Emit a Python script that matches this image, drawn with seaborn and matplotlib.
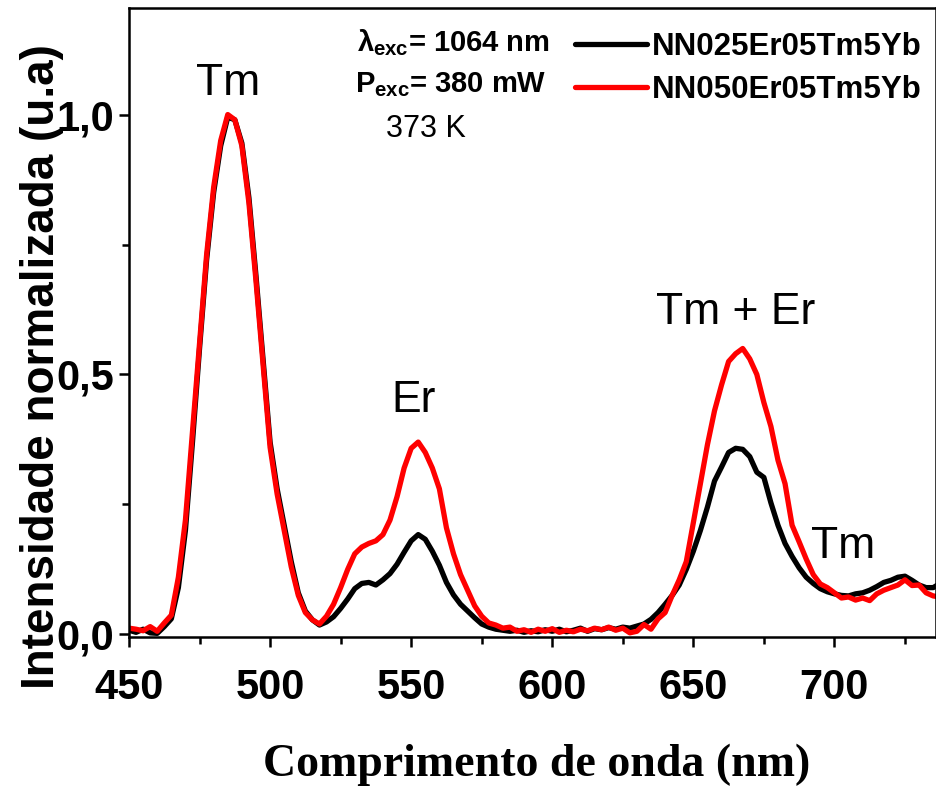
import numpy as np
import pandas as pd
import seaborn as sns
import matplotlib
matplotlib.use("Agg")
import matplotlib.pyplot as plt
from matplotlib.ticker import MultipleLocator, FuncFormatter

# Emission spectra (normalized) sampled every 2.5 nm from 450 to 740 nm
wavelength = np.arange(450.0, 740.1, 2.5)

nn025 = [
    0.008, 0.004, 0.010, 0.003, 0.002, 0.015, 0.030, 0.09, 0.20, 0.37,
    0.55, 0.72, 0.85, 0.94, 0.995, 0.99, 0.945, 0.84, 0.69, 0.53,
    0.37, 0.28, 0.21, 0.14, 0.08, 0.045, 0.028, 0.018, 0.024, 0.034,
    0.05, 0.068, 0.088, 0.098, 0.10, 0.095, 0.105, 0.117, 0.135, 0.158,
    0.18, 0.192, 0.183, 0.16, 0.133, 0.10, 0.076, 0.058, 0.045, 0.032,
    0.02, 0.014, 0.01, 0.008, 0.006, 0.008, 0.004, 0.007, 0.005, 0.009,
    0.006, 0.010, 0.005, 0.008, 0.012, 0.006, 0.011, 0.009, 0.013, 0.010,
    0.014, 0.012, 0.016, 0.020, 0.029, 0.042, 0.058, 0.075, 0.095, 0.125,
    0.16, 0.20, 0.245, 0.295, 0.322, 0.35, 0.358, 0.356, 0.342, 0.312,
    0.302, 0.253, 0.21, 0.175, 0.15, 0.128, 0.11, 0.098, 0.088, 0.082,
    0.078, 0.075, 0.074, 0.078, 0.08, 0.085, 0.092, 0.10, 0.104, 0.11,
    0.112, 0.104, 0.095, 0.09, 0.09, 0.098, 0.10,
]

nn050 = [
    0.012, 0.010, 0.007, 0.015, 0.006, 0.022, 0.037, 0.11, 0.22, 0.39,
    0.56, 0.73, 0.86, 0.95, 1.0, 0.99, 0.94, 0.83, 0.68, 0.52,
    0.36, 0.27, 0.20, 0.13, 0.075, 0.042, 0.028, 0.02, 0.035, 0.058,
    0.09, 0.125, 0.155, 0.168, 0.175, 0.18, 0.192, 0.22, 0.265, 0.32,
    0.358, 0.37, 0.35, 0.32, 0.28, 0.205, 0.155, 0.115, 0.085, 0.055,
    0.035, 0.022, 0.018, 0.012, 0.014, 0.006, 0.009, 0.004, 0.010, 0.006,
    0.011, 0.004, 0.008, 0.005, 0.010, 0.007, 0.012, 0.009, 0.014, 0.008,
    0.012, 0.003, 0.006, 0.019, 0.010, 0.030, 0.042, 0.075, 0.105, 0.14,
    0.215, 0.29, 0.365, 0.43, 0.48, 0.525, 0.54, 0.55, 0.53, 0.50,
    0.446, 0.40, 0.335, 0.29, 0.21, 0.178, 0.145, 0.115, 0.097, 0.09,
    0.08, 0.07, 0.072, 0.066, 0.07, 0.065, 0.078, 0.085, 0.09, 0.095,
    0.105, 0.094, 0.095, 0.08, 0.074, 0.072, 0.07,
]

samples = ["NN025Er05Tm5Yb", "NN050Er05Tm5Yb"]
colors = ["#000000", "#ff0000"]

peak_labels = ["Tm", "Er", "Tm + Er", "Tm"]
peak_pos = [(485, 1.06), (551, 0.45), (665, 0.62), (703, 0.17)]

df = pd.concat([
    pd.DataFrame({"wl": wavelength, "I": nn025, "amostra": samples[0]}),
    pd.DataFrame({"wl": wavelength, "I": nn050, "amostra": samples[1]}),
])

sns.set_style("ticks")
plt.rcParams["font.family"] = ["Liberation Sans", "DejaVu Sans"]
plt.rcParams["mathtext.fontset"] = "custom"
plt.rcParams["mathtext.rm"] = "Liberation Sans:bold"
plt.rcParams["mathtext.it"] = "Liberation Sans:bold"
plt.rcParams["mathtext.bf"] = "Liberation Sans:bold"
for key in ["text.color", "axes.labelcolor", "xtick.color", "ytick.color",
            "axes.edgecolor"]:
    plt.rcParams[key] = "black"

fig = plt.figure(figsize=(9.36, 7.87), dpi=100)
ax = fig.add_axes([129 / 936, 1 - 637 / 787, (936 - 129) / 936, (637 - 8) / 787])

sns.lineplot(data=df, x="wl", y="I", hue="amostra", hue_order=samples,
             palette=dict(zip(samples, colors)), linewidth=3.8, ax=ax,
             legend=True)

ax.set_xlim(450, 736)
ax.set_ylim(-0.005, 1.205)

ax.xaxis.set_major_locator(MultipleLocator(50))
ax.xaxis.set_minor_locator(MultipleLocator(25))
ax.yaxis.set_major_locator(MultipleLocator(0.5))
ax.yaxis.set_minor_locator(MultipleLocator(0.25))
ax.yaxis.set_major_formatter(FuncFormatter(lambda v, p: f"{v:.1f}".replace(".", ",")))

for s in ax.spines.values():
    s.set_linewidth(1.8)
    s.set_color("black")

ax.tick_params(axis="both", which="major", direction="out", length=7, width=1.8,
               labelsize=30, pad=4, colors="black")
ax.tick_params(axis="both", which="minor", direction="out", length=5, width=1.8,
               colors="black")
ax.tick_params(axis="x", which="major", pad=15)
for lab in ax.get_xticklabels() + ax.get_yticklabels():
    lab.set_fontweight("bold")

ax.set_xlabel("Comprimento de onda (nm)", fontsize=33, fontweight="bold",
              family="Liberation Serif")
ax.set_ylabel("Intensidade normalizada (u.a)", fontsize=33, fontweight="bold")
ax.xaxis.set_label_coords(0.505, -0.17)
ax.yaxis.set_label_coords(-0.08, 0.43)

for txt, (x, y) in zip(peak_labels, peak_pos):
    ax.text(x, y, txt, fontsize=32, ha="center", va="center")

ax.text(0.283, 0.945, r"$\lambda_{exc}$= 1064 nm", transform=ax.transAxes,
        fontsize=21, fontweight="bold", ha="left", va="center")
ax.text(0.28, 0.878, r"$P_{exc}$= 380 mW", transform=ax.transAxes,
        fontsize=21, fontweight="bold", ha="left", va="center")
ax.text(0.318, 0.808, "373 K", transform=ax.transAxes,
        fontsize=22, ha="left", va="center")

handles, labels = ax.get_legend_handles_labels()
leg = ax.legend(handles, labels, loc="upper left", bbox_to_anchor=(0.553, 0.962),
                frameon=False, prop={"size": 22.5, "weight": "bold"},
                handlelength=2.3, handletextpad=0.15, labelspacing=0.42,
                borderpad=0, borderaxespad=0)
for line in leg.get_lines():
    line.set_linewidth(3.8)
for t in leg.get_texts():
    t.set_color("black")

fig.savefig("out.png", dpi=100)
